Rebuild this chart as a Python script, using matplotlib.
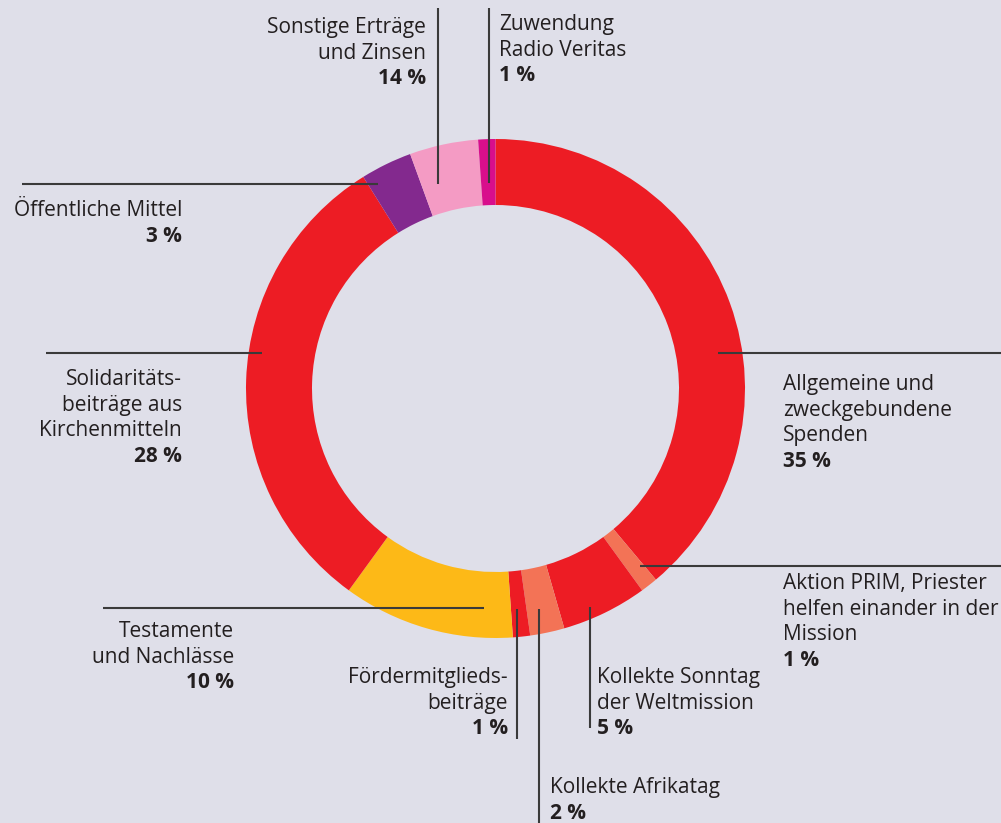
import numpy as np
import matplotlib
matplotlib.use("Agg")
import matplotlib.pyplot as plt

# slice shares as drawn (clockwise from 12 o'clock)
namen = ["Allgemeine und\nzweckgebundene\nSpenden",
         "Aktion PRIM, Priester\nhelfen einander in der\nMission",
         "Kollekte Sonntag\nder Weltmission",
         "Kollekte Afrikatag",
         "Fördermitglieds-\nbeiträge",
         "Testamente\nund Nachlässe",
         "Solidaritäts-\nbeiträge aus\nKirchenmitteln",
         "Öffentliche Mittel",
         "Sonstige Erträge\nund Zinsen",
         "Zuwendung\nRadio Veritas"]
anteile = [35, 1, 5, 2, 1, 10, 28, 3, 4, 1]
prozent = ["35 %", "1 %", "5 %", "2 %", "1 %", "10 %", "28 %", "3 %", "14 %", "1 %"]
farben = ["#ED1C24", "#F37356", "#ED1C24", "#F37356", "#ED1C24",
          "#FDB917", "#ED1C24", "#83298E", "#F49BC4", "#D80E8C"]

W, H = 1001, 823
bg = "#DFDFE9"
linie = "#3a3a3a"

fig = plt.figure(figsize=(W/100, H/100), dpi=100, facecolor=bg)
ax = fig.add_axes([0, 0, 1, 1])
ax.axis("off")

ax.pie(anteile, colors=farben, startangle=90, counterclock=False,
       center=(495.5, H - 388.5), radius=249.5,
       wedgeprops=dict(width=66, linewidth=0))
ax.set_xlim(0, W)
ax.set_ylim(0, H)
ax.set_aspect("equal")

# leader lines: (x0, y0, x1, y1) in pixel coords from top
leader = [(718, 353, 1001, 353),
          (640, 566, 1001, 566),
          (590, 607, 590, 728),
          (539, 609, 539, 823),
          (517, 609, 517, 739),
          (103, 608, 484, 608),
          (46, 353, 262, 353),
          (22, 184, 378, 184),
          (438, 8, 438, 184),
          (489, 8, 489, 183)]
for x0, y0, x1, y1 in leader:
    ax.plot([x0, x1], [H - y0, H - y1], color=linie, lw=1.5, solid_capstyle="butt")

# label anchors: x, baseline of first line, alignment
pos = [(783, 390, "left"),
       (783, 589, "left"),
       (597, 683, "left"),
       (550, 793, "left"),
       (508, 683, "right"),
       (234, 637, "right"),
       (182, 385, "right"),
       (182, 216, "right"),
       (426, 33, "right"),
       (499, 30, "left")]
dz = 25.6
fs = 15
for name, p, (x, y, ha) in zip(namen, prozent, pos):
    zeilen = name.split("\n")
    for i, z in enumerate(zeilen):
        ax.text(x, H - (y + i*dz), z, ha=ha, va="baseline", fontsize=fs,
                color="#231f20", family="Open Sans")
    ax.text(x, H - (y + len(zeilen)*dz), p, ha=ha, va="baseline", fontsize=fs,
            color="#231f20", family="Open Sans", fontweight="bold")

fig.savefig("out.png", dpi=100, facecolor=bg)
